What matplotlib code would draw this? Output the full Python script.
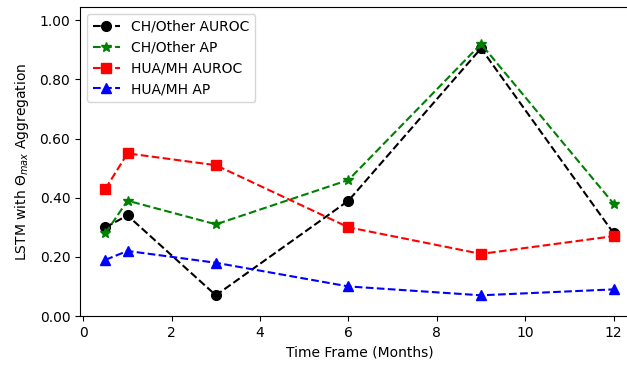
import numpy as np
import matplotlib
matplotlib.use("Agg")
import matplotlib.pyplot as plt
from matplotlib.ticker import FormatStrFormatter

# Time frames (months)
months = [0.5, 1, 3, 6, 9, 12]

# Scores per series
ch_auroc = [0.30, 0.34, 0.07, 0.39, 0.905, 0.28]
ch_ap = [0.28, 0.39, 0.31, 0.46, 0.92, 0.38]
hua_auroc = [0.43, 0.55, 0.51, 0.30, 0.21, 0.27]
hua_ap = [0.19, 0.22, 0.18, 0.10, 0.07, 0.09]

fig = plt.figure(figsize=(6.27, 3.65), dpi=100)
ax = fig.add_axes([80/627, 1 - 316/365, 559/627, 309/365])

ax.plot(months, ch_auroc, 'k--o', ms=7, label="CH/Other AUROC")
ax.plot(months, ch_ap, 'g--*', ms=7, label="CH/Other AP")
ax.plot(months, hua_auroc, 'r--s', ms=7, label="HUA/MH AUROC")
ax.plot(months, hua_ap, 'b--^', ms=7, label="HUA/MH AP")

ax.set_ylim(0, 1.045)
ax.set_yticks([0, 0.2, 0.4, 0.6, 0.8, 1.0])
ax.yaxis.set_major_formatter(FormatStrFormatter('%.2f'))
ax.set_xticks([0, 2, 4, 6, 8, 10, 12])

ax.set_xlabel("Time Frame (Months)")
ax.set_ylabel(r"LSTM with $\Theta_{max}$ Aggregation", labelpad=6)
ax.legend(loc="upper left")

fig.savefig("out.png", dpi=100)
